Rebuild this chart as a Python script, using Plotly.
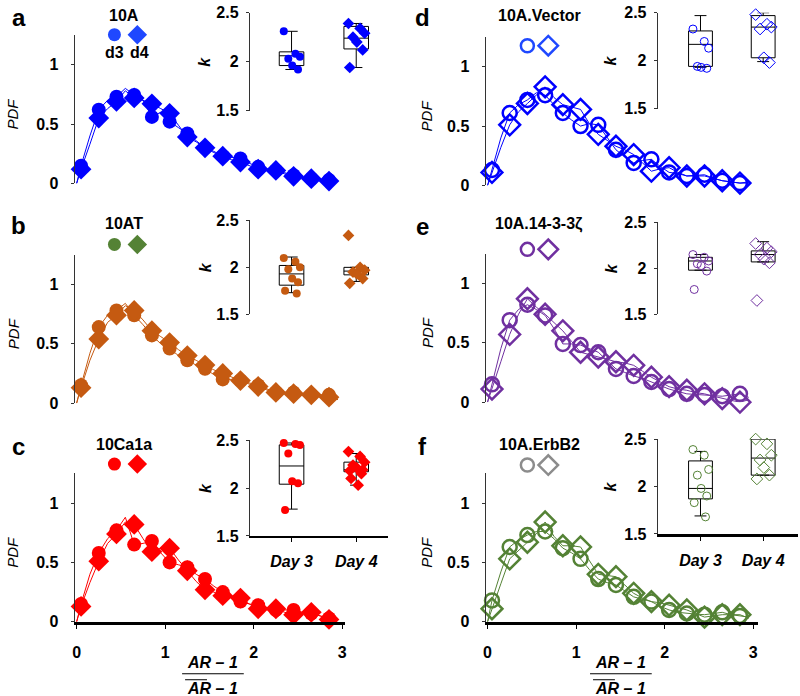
import plotly.graph_objects as go

# bin centres of (AR-1)/(mean AR-1); markers sit on every other bin
bins = [0, 0.05, 0.15, 0.25, 0.35, 0.45, 0.55, 0.65, 0.75, 0.85, 0.95, 1.05, 1.15, 1.25, 1.35,
        1.45, 1.55, 1.65, 1.75, 1.85, 1.95, 2.05, 2.15, 2.25, 2.35, 2.45, 2.55, 2.65, 2.75, 2.85, 2.95]

# PDF values, day 3 and day 4
a_d3 = [0, 0.15, 0.40, 0.62, 0.70, 0.73, 0.80, 0.745, 0.70, 0.56, 0.60, 0.52, 0.47, 0.42, 0.36, 0.30,
        0.27, 0.23, 0.22, 0.21, 0.17, 0.14, 0.12, 0.11, 0.09, 0.07, 0.05, 0.04, 0.035, 0.03, 0.02]
a_d4 = [0, 0.12, 0.33, 0.55, 0.63, 0.69, 0.78, 0.72, 0.70, 0.67, 0.63, 0.59, 0.49, 0.39, 0.35, 0.30,
        0.26, 0.23, 0.20, 0.18, 0.15, 0.12, 0.115, 0.11, 0.08, 0.06, 0.05, 0.04, 0.03, 0.02, 0.02]
b_d3 = [0, 0.15, 0.42, 0.64, 0.74, 0.78, 0.84, 0.74, 0.66, 0.57, 0.50, 0.46, 0.40, 0.36, 0.32, 0.29,
        0.24, 0.20, 0.20, 0.19, 0.17, 0.15, 0.12, 0.09, 0.09, 0.09, 0.08, 0.07, 0.07, 0.07, 0.03]
b_d4 = [0, 0.13, 0.36, 0.54, 0.68, 0.74, 0.82, 0.78, 0.70, 0.61, 0.56, 0.51, 0.45, 0.40, 0.36, 0.32,
        0.28, 0.25, 0.22, 0.19, 0.16, 0.14, 0.11, 0.09, 0.085, 0.08, 0.075, 0.07, 0.06, 0.05, 0.03]
c_d3 = [0, 0.15, 0.40, 0.58, 0.70, 0.77, 0.88, 0.65, 0.66, 0.68, 0.58, 0.50, 0.48, 0.46, 0.40, 0.36,
        0.30, 0.25, 0.21, 0.17, 0.15, 0.14, 0.12, 0.10, 0.10, 0.10, 0.08, 0.07, 0.05, 0.03, 0.02]
c_d4 = [0, 0.13, 0.33, 0.51, 0.66, 0.74, 0.84, 0.82, 0.70, 0.59, 0.62, 0.62, 0.52, 0.43, 0.34, 0.27,
        0.25, 0.22, 0.21, 0.20, 0.15, 0.11, 0.11, 0.11, 0.08, 0.06, 0.07, 0.08, 0.05, 0.02, 0.01]
d_d3 = [0, 0.13, 0.40, 0.61, 0.68, 0.72, 0.78, 0.76, 0.68, 0.61, 0.55, 0.50, 0.52, 0.51, 0.40, 0.30,
        0.24, 0.19, 0.21, 0.22, 0.16, 0.11, 0.10, 0.08, 0.085, 0.09, 0.06, 0.04, 0.03, 0.02, 0.03]
d_d4 = [0, 0.11, 0.32, 0.51, 0.62, 0.69, 0.76, 0.83, 0.74, 0.68, 0.66, 0.64, 0.52, 0.43, 0.38, 0.33,
        0.30, 0.26, 0.19, 0.12, 0.14, 0.15, 0.11, 0.08, 0.08, 0.08, 0.06, 0.04, 0.03, 0.02, 0.02]
e_d3 = [0, 0.15, 0.45, 0.69, 0.78, 0.82, 0.78, 0.73, 0.62, 0.49, 0.49, 0.48, 0.45, 0.42, 0.35, 0.28,
        0.25, 0.22, 0.20, 0.17, 0.14, 0.11, 0.09, 0.07, 0.065, 0.06, 0.055, 0.05, 0.06, 0.07, 0.04]
e_d4 = [0, 0.11, 0.34, 0.57, 0.74, 0.87, 0.80, 0.74, 0.67, 0.60, 0.51, 0.42, 0.40, 0.38, 0.36, 0.34,
        0.33, 0.31, 0.26, 0.21, 0.17, 0.13, 0.11, 0.10, 0.08, 0.07, 0.05, 0.03, 0.015, 0.00, 0.02]
f_d3 = [0, 0.18, 0.42, 0.63, 0.69, 0.73, 0.76, 0.76, 0.70, 0.62, 0.58, 0.53, 0.44, 0.36, 0.33, 0.31,
        0.26, 0.21, 0.19, 0.17, 0.13, 0.10, 0.08, 0.07, 0.065, 0.06, 0.07, 0.08, 0.06, 0.05, 0.04]
f_d4 = [0, 0.11, 0.32, 0.53, 0.60, 0.67, 0.74, 0.84, 0.72, 0.64, 0.64, 0.63, 0.52, 0.40, 0.39, 0.38,
        0.31, 0.24, 0.20, 0.17, 0.16, 0.14, 0.12, 0.10, 0.07, 0.04, 0.05, 0.06, 0.06, 0.06, 0.03]

# inset: shape parameter k per sample
days = ['Day 3', 'Day 4']
a_k3 = [2.31, 2.08, 2.05, 2.03, 1.96, 1.92]
a_k4 = [2.39, 2.34, 2.29, 2.25, 2.20, 2.12, 1.94]
b_k3 = [2.10, 2.06, 2.00, 1.98, 1.88, 1.84, 1.75, 1.72]
b_k4 = [2.34, 2.00, 1.97, 1.95, 1.93, 1.88, 1.83]
c_k3 = [2.47, 2.46, 2.45, 2.36, 2.07, 2.05, 1.77]
c_k4 = [2.38, 2.33, 2.27, 2.24, 2.21, 2.19, 2.18, 2.15, 2.10, 2.03]
d_k3 = [2.33, 2.20, 2.13, 1.94, 1.93, 1.92]
d_k4 = [2.48, 2.38, 2.35, 2.33, 2.03, 1.98]
e_k3 = [2.15, 2.12, 2.08, 2.05, 2.03, 1.97, 1.77]
e_k4 = [2.27, 2.22, 2.18, 2.15, 2.10, 2.06, 1.65]
f_k3 = [2.39, 2.33, 2.18, 2.12, 1.98, 1.90, 1.83, 1.68]
f_k4 = [2.50, 2.45, 2.33, 2.28, 2.20, 2.12, 2.08]

# box stats [day3, day4]: q1, median, q3, lower whisker, upper whisker
a_box = dict(q1=[1.96, 2.13], median=[2.06, 2.24], q3=[2.10, 2.36], lowerfence=[1.92, 1.94], upperfence=[2.31, 2.39])
b_box = dict(q1=[1.81, 1.92], median=[1.93, 1.96], q3=[2.02, 2.00], lowerfence=[1.73, 1.85], upperfence=[2.11, 2.00])
c_box = dict(q1=[2.04, 2.17], median=[2.23, 2.19], q3=[2.45, 2.27], lowerfence=[1.78, 2.03], upperfence=[2.47, 2.36])
d_box = dict(q1=[1.94, 2.03], median=[2.17, 2.35], q3=[2.31, 2.47], lowerfence=[1.93, 1.99], upperfence=[2.47, 2.50])
e_box = dict(q1=[1.98, 2.07], median=[2.08, 2.15], q3=[2.12, 2.19], lowerfence=[1.98, 2.07], upperfence=[2.15, 2.29])
f_box = dict(q1=[1.87, 2.12], median=[1.98, 2.30], q3=[2.27, 2.50], lowerfence=[1.69, 2.12], upperfence=[2.37, 2.52])

jit = [-0.12, 0.06, 0.13, -0.05, 0.01, 0.10, -0.10, 0.08, -0.08, 0.03]

W, H = 800, 696
FONT = 'Liberation Sans'
# the captured page comes out a bit squeezed vertically; positions below are
# target pixels in the final picture and get mapped back through this
KY, DY = 0.977, 5.4


def fx(r):
    return r / W


def fy(r):
    return 1 - (r / KY - DY) / H


# kt = inset top, ib = inset bottom, ty = title row, ky = key row (target px)
panels = [
    dict(letter='a', title='10A', col=0, y0=181, kt=10, ib=108, ty=13, ky=32, d3=a_d3, d4=a_d4, k3=a_k3, k4=a_k4,
         box=a_box, color='#0000ff', key='#1f48ff', open=False, bottom=False),
    dict(letter='b', title='10AT', col=0, y0=401, kt=218, ib=312, ty=221, ky=242, d3=b_d3, d4=b_d4, k3=b_k3, k4=b_k4,
         box=b_box, color='#c55a11', key='#548235', open=False, bottom=False),
    dict(letter='c', title='10Ca1a', col=0, y0=620, kt=438, ib=534, ty=442, ky=462, d3=c_d3, d4=c_d4, k3=c_k3, k4=c_k4,
         box=c_box, color='#ff0000', key='#ff0000', open=False, bottom=True),
    dict(letter='d', title='10A.Vector', col=1, y0=183, kt=10, ib=106, ty=13, ky=43, d3=d_d3, d4=d_d4, k3=d_k3, k4=d_k4,
         box=d_box, color='#0000ff', key='#1f48ff', open=True, bottom=False),
    dict(letter='e', title='10A.14-3-3ζ', col=1, y0=400, kt=220, ib=312, ty=222, ky=247, d3=e_d3, d4=e_d4, k3=e_k3, k4=e_k4,
         box=e_box, color='#7030a0', key='#7030a0', open=True, bottom=False),
    dict(letter='f', title='10A.ErbB2', col=1, y0=620, kt=437, ib=532, ty=442, ky=463, d3=f_d3, d4=f_d4, k3=f_k3, k4=f_k4,
         box=f_box, color='#548235', key='#8c8c8c', open=True, bottom=True),
]

# column geometry in target pixels
cols = [
    dict(x0=75, xl=73, xr=345, ix=249, ir=388, d3x=291, unit=65, pdfx=11, kx=204, tx=123, lx=17, keyx=(113, 136), fx=212),
    dict(x0=488, xl=486, xr=760, ix=659, ir=800, d3x=702, unit=63, pdfx=427, kx=612, tx=540, lx=423,
         keyx=(528, 549), fx=622),
]
XU, YU = 89.0, 119.0

fig = go.Figure()
annotations = []
shapes = []
layout = {}

# invisible axes spanning the figure in target pixels, used for the key symbols
layout['xaxis'] = dict(domain=[0, 1], range=[0, W], visible=False, anchor='y', fixedrange=True)
layout['yaxis'] = dict(domain=[0, 1], range=[KY * (H + DY), KY * DY], visible=False, anchor='x', fixedrange=True)


def tick_b(vals):
    return ['<b>%s</b>' % v for v in vals]


def ann(x, y, text, size=16, color='black', angle=0):
    annotations.append(dict(x=fx(x), y=fy(y), xref='paper', yref='paper', text=text, showarrow=False,
                            textangle=angle, xanchor='center', yanchor='middle',
                            font=dict(family=FONT, size=size, color=color)))


for i, p in enumerate(panels):
    c = cols[p['col']]
    m, n = 2 * i + 2, 2 * i + 3
    xm, ym = 'x%d' % m, 'y%d' % m
    xi, yi = 'x%d' % n, 'y%d' % n
    sfx = '-open' if p['open'] else ''
    lw = 2.5 if p['open'] else 0

    # key symbols (legend)
    fig.add_trace(go.Scatter(
        x=list(c['keyx']), y=[p['ky']] * 2, mode='markers', xaxis='x', yaxis='y',
        cliponaxis=False, hoverinfo='skip',
        marker=dict(symbol=['circle' + sfx, 'diamond' + sfx], size=[13, 15], color=p['key'], opacity=1,
                    line=dict(color=p['key'], width=2.5 if p['open'] else 0))))

    # main PDF lines + markers
    for data, sym in [(p['d3'], 'circle'), (p['d4'], 'diamond')]:
        fig.add_trace(go.Scatter(x=bins, y=data, mode='lines', line=dict(color=p['color'], width=1),
                                 xaxis=xm, yaxis=ym, cliponaxis=False, hoverinfo='skip'))
        fig.add_trace(go.Scatter(
            x=bins[1::2], y=data[1::2], mode='markers', xaxis=xm, yaxis=ym, cliponaxis=False,
            marker=dict(symbol=sym + sfx, size=14 if sym == 'circle' else 16, opacity=1,
                        color=p['color'], line=dict(color=p['color'], width=lw))))

    # inset box plot
    fig.add_trace(go.Box(x=[0, 1], **p['box'], width=0.38, whiskerwidth=0.5, boxpoints=False,
                         fillcolor='rgba(0,0,0,0)', line=dict(color='black', width=1),
                         xaxis=xi, yaxis=yi, orientation='v'))
    for pos, ks, sym in [(0, p['k3'], 'circle'), (1, p['k4'], 'diamond')]:
        fig.add_trace(go.Scatter(
            x=[pos + j for j in jit[:len(ks)]], y=ks, mode='markers', xaxis=xi, yaxis=yi, cliponaxis=False,
            marker=dict(symbol=sym + sfx, size=8 if sym == 'circle' else 9, opacity=1,
                        color=p['color'], line=dict(color=p['color'], width=1 if p['open'] else 0))))

    top = p['y0'] - 1.25 * YU
    layout['xaxis%d' % m] = dict(
        domain=[fx(c['xl']), fx(c['xr'])], range=[(c['xl'] - c['x0']) / XU, (c['xr'] - c['x0']) / XU],
        anchor=ym, showgrid=False, zeroline=False, showline=p['bottom'], linecolor='black', linewidth=3,
        ticks='outside' if p['bottom'] else '', ticklen=4, tickcolor='black',
        tickvals=[0, 1, 2, 3], ticktext=tick_b([0, 1, 2, 3]), showticklabels=p['bottom'],
        ticklabelstandoff=10, tickfont=dict(family=FONT, size=16, color='black'))
    layout['yaxis%d' % m] = dict(
        domain=[fy(p['y0']), fy(top)], range=[0, 1.25], anchor=xm, showgrid=False, zeroline=False,
        showline=True, linecolor='#333333', linewidth=1, ticks='outside', ticklen=3, tickcolor='#333333',
        tickvals=[0, 0.5, 1], ticktext=tick_b(['0', '0.5', '1']), ticklabelstandoff=9,
        tickfont=dict(family=FONT, size=16, color='black'))

    layout['xaxis%d' % n] = dict(
        domain=[fx(c['ix']), fx(c['ir'])],
        range=[(c['ix'] - c['d3x']) / c['unit'], (c['ir'] - c['d3x']) / c['unit']],
        anchor=yi, showgrid=False, zeroline=False, showline=p['bottom'], linecolor='black',
        linewidth=2 if p['col'] == 0 else 3, ticks='outside' if p['bottom'] else '', ticklen=4,
        tickcolor='black', tickvals=[0, 1], ticktext=['<b><i>%s</i></b>' % d for d in days],
        showticklabels=p['bottom'], ticklabelstandoff=6, tickfont=dict(family=FONT, size=16, color='black'))
    layout['yaxis%d' % n] = dict(
        domain=[fy(p['ib']), fy(p['kt'])], range=[1.5, 2.5], anchor=xi, showgrid=False, zeroline=False,
        showline=True, linecolor='#333333', linewidth=1, ticks='outside', ticklen=3, tickcolor='#333333',
        tickvals=[1.5, 2, 2.5], ticktext=tick_b(['1.5', '2', '2.5']), ticklabelstandoff=4,
        tickfont=dict(family=FONT, size=16, color='black'))

    # texts
    ann(c['lx'], p['ty'] + 2, '<b>%s</b>' % p['letter'], size=24)
    ann(c['tx'], p['ty'], '<b>%s</b>' % p['title'], size=16)
    ann(c['pdfx'], p['y0'] - 70, '<i>PDF</i>', size=15, angle=-90)
    ann(c['kx'], (p['kt'] + p['ib']) / 2, '<b><i>k</i></b>', size=16, angle=-90)
    if i == 0:
        ann(113, 50, '<b>d3</b>', size=16)
        ann(138, 50, '<b>d4</b>', size=16)

    if p['bottom']:
        cx = c['fx']
        ann(cx, 661, '<b><i>AR – 1</i></b>', size=16)
        ann(cx, 687, '<b><i>AR – 1</i></b>', size=16)
        shapes.append(dict(type='line', xref='paper', yref='paper', x0=fx(cx - 31), x1=fx(cx + 31),
                           y0=fy(672), y1=fy(672), line=dict(color='black', width=1)))
        shapes.append(dict(type='line', xref='paper', yref='paper', x0=fx(cx - 28), x1=fx(cx - 6),
                           y0=fy(678), y1=fy(678), line=dict(color='black', width=1)))

fig.update_layout(**layout)
fig.update_layout(width=W, height=H, margin=dict(l=0, r=0, t=0, b=0), showlegend=False,
                  plot_bgcolor='rgba(0,0,0,0)', paper_bgcolor='white', annotations=annotations, shapes=shapes)

# drop the browser's default body margin so the figure starts at the page corner
fig.write_html("out.html", config={'displayModeBar': False},
               post_script="document.body.style.margin='0';")
